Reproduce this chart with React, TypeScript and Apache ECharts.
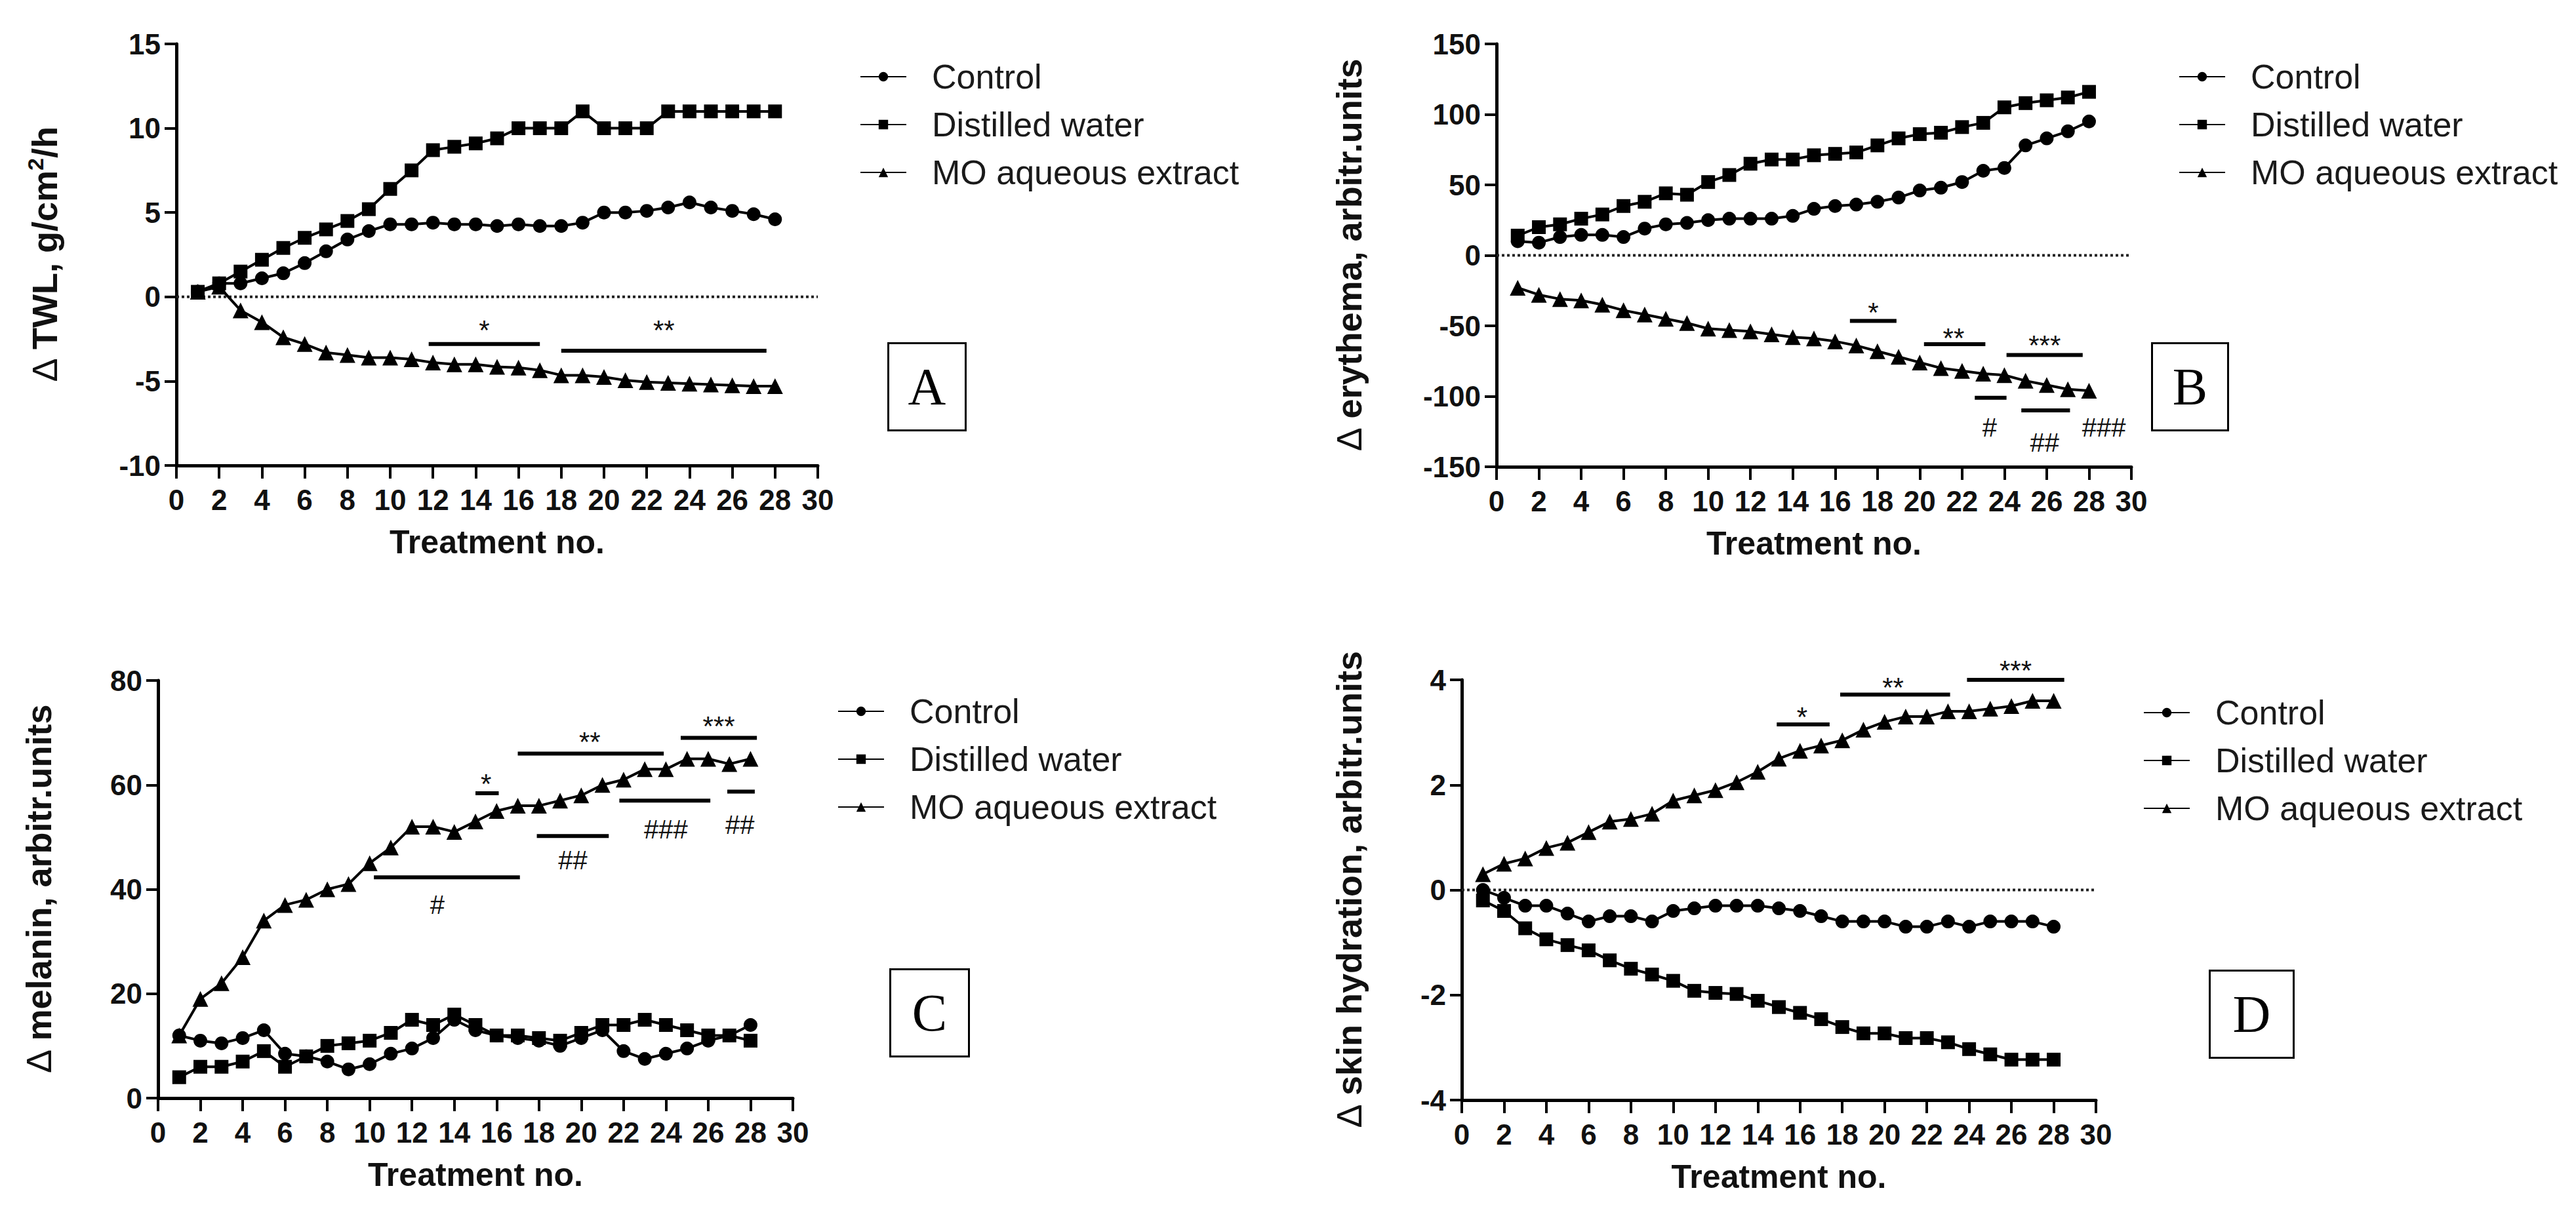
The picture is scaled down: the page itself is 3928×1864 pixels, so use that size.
import React, { useEffect, useRef } from "react";
import * as echarts from "echarts";

// ---------- data ----------
const TREATMENTS = [1, 2, 3, 4, 5, 6, 7, 8, 9, 10, 11, 12, 13, 14, 15, 16, 17, 18, 19, 20, 21, 22, 23, 24, 25, 26, 27, 28];
const SERIES_NAMES = ["Control", "Distilled water", "MO aqueous extract"];

// A: TWL
const TWL_CONTROL = [0.3, 0.8, 0.8, 1.1, 1.4, 2.0, 2.7, 3.4, 3.9, 4.3, 4.3, 4.4, 4.3, 4.3, 4.2, 4.3, 4.2, 4.2, 4.4, 5.0, 5.0, 5.1, 5.3, 5.6, 5.3, 5.1, 4.9, 4.6];
const TWL_WATER = [0.3, 0.8, 1.5, 2.2, 2.9, 3.5, 4.0, 4.5, 5.2, 6.4, 7.5, 8.7, 8.9, 9.1, 9.4, 10.0, 10.0, 10.0, 11.0, 10.0, 10.0, 10.0, 11.0, 11.0, 11.0, 11.0, 11.0, 11.0];
const TWL_MO = [0.3, 0.6, -0.8, -1.5, -2.4, -2.8, -3.3, -3.45, -3.6, -3.6, -3.7, -3.9, -4.0, -4.0, -4.15, -4.2, -4.35, -4.65, -4.65, -4.75, -4.95, -5.05, -5.1, -5.15, -5.2, -5.25, -5.3, -5.3];
const TWL_SIG_BARS = [[11.8, 17.0, -2.8], [18.0, 27.6, -3.2]];
const TWL_SIG_POS = [[14.4, -1.6], [22.8, -1.6]];
const TWL_SIG_TEXT = ["*", "**"];

// B: erythema
const ERY_CONTROL = [10, 9, 13, 14.5, 14.5, 13, 19, 22, 23, 25, 26, 26, 26, 28, 33, 35, 36, 38, 41, 46, 48, 52, 60, 62, 78, 83, 88, 95];
const ERY_WATER = [14, 20, 22, 26, 29, 35, 38, 44, 43, 52, 57, 65, 68, 68, 71, 72, 73, 78, 83, 86, 87, 91, 94, 105, 108, 110, 112, 116];
const ERY_MO = [-23, -28, -31, -32, -35, -39, -42, -45, -48, -52, -53, -54, -56, -58, -59, -61, -64, -68, -72, -76, -80, -82, -84, -85, -89, -92, -95, -96];
const ERY_SIG_BARS = [[16.7, 18.9, -46.5], [20.2, 23.1, -63], [24.1, 27.7, -70.7], [22.6, 24.1, -101], [24.8, 27.1, -110]];
const ERY_SIG_POS = [[17.8, -36], [21.6, -54], [25.9, -59], [23.3, -122], [25.9, -133], [28.7, -122]];
const ERY_SIG_TEXT = ["*", "**", "***", "#", "##", "###"];

// C: melanin
const MEL_CONTROL = [12, 11, 10.5, 11.5, 13, 8.5, 8, 7, 5.5, 6.5, 8.5, 9.5, 11.5, 15, 13, 12, 11.5, 11, 10, 11.5, 13, 9, 7.5, 8.5, 9.5, 11, 12, 14];
const MEL_WATER = [4, 6, 6, 7, 9, 6, 8, 10, 10.5, 11, 12.5, 15, 14, 16, 14, 12, 12, 11.5, 11, 12.5, 14, 14, 15, 14, 13, 12, 12, 11];
const MEL_MO = [12, 19, 22, 27, 34, 37, 38, 40, 41, 45, 48, 52, 52, 51, 53, 55, 56, 56, 57, 58, 60, 61, 63, 63, 65, 65, 64, 65];
const MEL_SIG_BARS = [[15.0, 16.1, 58.4], [17.0, 23.9, 66], [24.7, 28.3, 69], [10.2, 17.1, 42.3], [17.9, 21.3, 50.2], [21.8, 26.1, 57], [26.9, 28.2, 58.7]];
const MEL_SIG_POS = [[15.5, 61.5], [20.4, 69.5], [26.5, 72.5], [13.2, 37], [19.6, 45.6], [24, 51.5], [27.5, 52.4]];
const MEL_SIG_TEXT = ["*", "**", "***", "#", "##", "###", "##"];

// D: skin hydration
const HYD_CONTROL = [0, -0.15, -0.3, -0.3, -0.45, -0.6, -0.5, -0.5, -0.6, -0.4, -0.35, -0.3, -0.3, -0.3, -0.35, -0.4, -0.5, -0.6, -0.6, -0.6, -0.7, -0.7, -0.6, -0.7, -0.6, -0.6, -0.6, -0.7];
const HYD_WATER = [-0.2, -0.4, -0.73, -0.94, -1.05, -1.15, -1.34, -1.5, -1.61, -1.73, -1.92, -1.96, -1.98, -2.11, -2.23, -2.34, -2.46, -2.61, -2.73, -2.73, -2.82, -2.82, -2.9, -3.03, -3.13, -3.23, -3.23, -3.23];
const HYD_MO = [0.3, 0.5, 0.6, 0.8, 0.9, 1.1, 1.3, 1.35, 1.45, 1.7, 1.8, 1.9, 2.05, 2.25, 2.5, 2.65, 2.75, 2.85, 3.05, 3.2, 3.3, 3.3, 3.4, 3.4, 3.45, 3.5, 3.6, 3.6];
const HYD_SIG_BARS = [[14.9, 17.4, 3.15], [17.9, 23.1, 3.72], [23.9, 28.5, 4.0]];
const HYD_SIG_POS = [[16.1, 3.42], [20.4, 3.98], [26.2, 4.3]];
const HYD_SIG_TEXT = ["*", "**", "***"];

// ---------- layout / styling ----------
const SANS = "'Liberation Sans', Arial, Helvetica, sans-serif";
const SERIF = "'Liberation Serif', 'Times New Roman', serif";

const PANELS = [
  {
    letter: "A",
    yName: "{d|Δ }{b|TWL, g/cm}{s|2}{b|/h}",
    yMin: -10, yMax: 15, yInterval: 5,
    values: [TWL_CONTROL, TWL_WATER, TWL_MO],
    zeroLine: true,
    bars: TWL_SIG_BARS, sigPos: TWL_SIG_POS, sigText: TWL_SIG_TEXT,
    grid: { left: 269, top: 67, width: 978, height: 643 },
    yNameGap: 170,
    legend: { left: 1306, top: 86 },
    box: { x: 1353, y: 522, w: 118, h: 133 },
  },
  {
    letter: "B",
    yName: "{d|Δ }{b|erythema, arbitr.units}",
    yMin: -150, yMax: 150, yInterval: 50,
    values: [ERY_CONTROL, ERY_WATER, ERY_MO],
    zeroLine: true,
    bars: ERY_SIG_BARS, sigPos: ERY_SIG_POS, sigText: ERY_SIG_TEXT,
    grid: { left: 2282, top: 67, width: 968, height: 645 },
    yNameGap: 194,
    legend: { left: 3317, top: 86 },
    box: { x: 3280, y: 522, w: 116, h: 133 },
  },
  {
    letter: "C",
    yName: "{d|Δ }{b|melanin, arbitr.units}",
    yMin: 0, yMax: 80, yInterval: 20,
    values: [MEL_CONTROL, MEL_WATER, MEL_MO],
    zeroLine: false,
    bars: MEL_SIG_BARS, sigPos: MEL_SIG_POS, sigText: MEL_SIG_TEXT,
    grid: { left: 241, top: 1038, width: 968, height: 637 },
    yNameGap: 151,
    legend: { left: 1272, top: 1054 },
    box: { x: 1356, y: 1477, w: 120, h: 133 },
  },
  {
    letter: "D",
    yName: "{d|Δ }{b|skin hydration, arbitr.units}",
    yMin: -4, yMax: 4, yInterval: 2,
    values: [HYD_CONTROL, HYD_WATER, HYD_MO],
    zeroLine: true,
    bars: HYD_SIG_BARS, sigPos: HYD_SIG_POS, sigText: HYD_SIG_TEXT,
    grid: { left: 2229, top: 1037, width: 967, height: 641 },
    yNameGap: 141,
    legend: { left: 3263, top: 1056 },
    box: { x: 3368, y: 1479, w: 128, h: 133 },
  },
];

const SYMBOLS = ["circle", "rect", "triangle"];

function buildOption() {
  const grid: any[] = [];
  const xAxis: any[] = [];
  const yAxis: any[] = [];
  const series: any[] = [];
  const legend: any[] = [];
  const graphic: any[] = [];

  PANELS.forEach((p, i) => {
    grid.push({ ...p.grid, containLabel: false });
    xAxis.push({
      type: "value",
      gridIndex: i,
      min: 0,
      max: 30,
      interval: 2,
      name: "Treatment no.",
      nameLocation: "middle",
      nameGap: 92,
      nameTextStyle: { fontFamily: SANS, fontSize: 50, fontWeight: "bold", color: "#111" },
      axisLine: { onZero: false, lineStyle: { color: "#000", width: 5 } },
      axisTick: { show: true, length: 20, lineStyle: { color: "#000", width: 4 } },
      axisLabel: { fontFamily: SANS, fontSize: 44, fontWeight: "bold", color: "#111", margin: 30 },
      splitLine: { show: false },
    });
    yAxis.push({
      type: "value",
      gridIndex: i,
      min: p.yMin,
      max: p.yMax,
      interval: p.yInterval,
      name: p.yName,
      nameLocation: "middle",
      nameGap: p.yNameGap,
      nameRotate: 90,
      nameTextStyle: {
        color: "#111",
        rich: {
          d: { fontFamily: SANS, fontSize: 54, fontWeight: "normal", color: "#111", lineHeight: 62 },
          b: { fontFamily: SANS, fontSize: 54, fontWeight: "bold", color: "#111", lineHeight: 62 },
          s: { fontFamily: SANS, fontSize: 34, fontWeight: "bold", color: "#111", verticalAlign: "top", lineHeight: 62 },
        },
      },
      axisLine: { onZero: false, lineStyle: { color: "#000", width: 5 } },
      axisTick: { show: true, length: 18, lineStyle: { color: "#000", width: 4 } },
      axisLabel: { fontFamily: SANS, fontSize: 44, fontWeight: "bold", color: "#111", margin: 24 },
      splitLine: { show: false },
    });

    if (p.zeroLine) {
      series.push({
        type: "line",
        xAxisIndex: i,
        yAxisIndex: i,
        data: [[0, 0], [30, 0]],
        showSymbol: false,
        silent: true,
        lineStyle: { color: "#222", width: 4, type: [4, 4] },
        z: 1,
      });
    }

    p.values.forEach((vals, k) => {
      series.push({
        type: "line",
        name: SERIES_NAMES[k],
        xAxisIndex: i,
        yAxisIndex: i,
        data: TREATMENTS.map((t, j) => [t, vals[j]]),
        symbol: SYMBOLS[k],
        symbolSize: k === 2 ? 24 : 21,
        showSymbol: true,
        lineStyle: { color: "#000", width: 4 },
        itemStyle: { color: "#000" },
        z: 3,
      });
    });

    const bars = p.bars;
    series.push({
      type: "custom",
      xAxisIndex: i,
      yAxisIndex: i,
      silent: true,
      clip: false,
      data: bars,
      encode: { x: [0, 1], y: 2 },
      renderItem: (_params: any, api: any) => {
        const a = api.coord([api.value(0), api.value(2)]);
        const b = api.coord([api.value(1), api.value(2)]);
        return {
          type: "line",
          shape: { x1: a[0], y1: a[1], x2: b[0], y2: b[1] },
          style: { stroke: "#000", lineWidth: 6 },
        };
      },
      z: 4,
    });

    const texts = p.sigText;
    series.push({
      type: "custom",
      xAxisIndex: i,
      yAxisIndex: i,
      silent: true,
      clip: false,
      data: p.sigPos,
      encode: { x: 0, y: 1 },
      renderItem: (params: any, api: any) => {
        const c = api.coord([api.value(0), api.value(1)]);
        const t = texts[params.dataIndex];
        const isStar = t.indexOf("*") >= 0;
        return {
          type: "text",
          x: c[0],
          y: c[1] + (isStar ? 10 : 0),
          style: {
            text: t,
            fontFamily: SANS,
            fontSize: isStar ? 42 : 40,
            fill: "#111",
            align: "center",
            verticalAlign: "middle",
          },
        };
      },
      z: 4,
    });

    legend.push({
      data: SERIES_NAMES,
      orient: "vertical",
      left: p.legend.left,
      top: p.legend.top,
      itemWidth: 70,
      itemHeight: 18,
      itemGap: 21,
      selectedMode: false,
      textStyle: { fontFamily: SANS, fontSize: 52, color: "#1a1a1a", lineHeight: 52, padding: [0, 0, 0, 34] },
    });

    graphic.push({
      type: "group",
      left: p.box.x,
      top: p.box.y,
      children: [
        {
          type: "rect",
          shape: { x: 0, y: 0, width: p.box.w, height: p.box.h },
          style: { fill: "#fff", stroke: "#000", lineWidth: 3 },
        },
        {
          type: "text",
          x: p.box.w / 2,
          y: p.box.h / 2,
          style: {
            text: p.letter,
            fontFamily: SERIF,
            fontSize: 80,
            fill: "#000",
            align: "center",
            verticalAlign: "middle",
          },
        },
      ],
    });
  });

  return {
    animation: false,
    backgroundColor: "#ffffff",
    grid,
    xAxis,
    yAxis,
    series,
    legend,
    graphic,
  };
}

export default function App() {
  const ref = useRef<HTMLDivElement | null>(null);
  useEffect(() => {
    if (!ref.current) return;
    const chart = echarts.init(ref.current, null, { renderer: "svg" });
    chart.setOption(buildOption() as any);
    return () => chart.dispose();
  }, []);
  return (
    <div
      ref={ref}
      style={{ position: "fixed", left: 0, top: 0, width: 3928, height: 1864, background: "#fff" }}
    />
  );
}
